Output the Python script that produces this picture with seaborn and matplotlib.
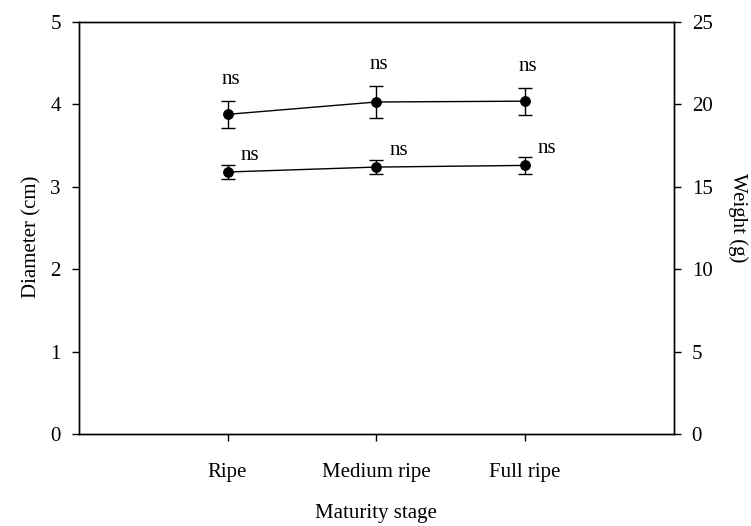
import matplotlib
matplotlib.use("Agg")
import matplotlib.pyplot as plt
import seaborn as sns
import pandas as pd

stages = ["Ripe", "Medium ripe", "Full ripe"]
diameter = [3.18, 3.24, 3.26]
diameter_err = [0.09, 0.09, 0.10]
weight = [19.4, 20.15, 20.2]
weight_err = [0.84, 0.99, 0.82]
diameter_sig = ["ns", "ns", "ns"]
weight_sig = ["ns", "ns", "ns"]

sns.set_style("ticks")
plt.rcParams["font.family"] = ["Liberation Serif", "DejaVu Serif"]
plt.rcParams["font.size"] = 15
plt.rcParams["text.color"] = "black"
plt.rcParams["axes.labelcolor"] = "black"
plt.rcParams["xtick.color"] = "black"
plt.rcParams["ytick.color"] = "black"

fig, ax = plt.subplots(figsize=(7.51, 5.26), dpi=100)
fig.subplots_adjust(left=0.105, right=0.897, top=0.958, bottom=0.175)
ax2 = ax.twinx()

df_d = pd.DataFrame({"stage": stages, "value": diameter})
df_w = pd.DataFrame({"stage": stages, "value": weight})

sns.pointplot(data=df_d, x="stage", y="value", ax=ax, errorbar=None,
              color="black", markers="o", linewidth=1, markersize=7)
ax.errorbar(range(len(stages)), diameter, yerr=diameter_err, fmt="none",
            ecolor="black", elinewidth=1, capsize=5, capthick=1)

sns.pointplot(data=df_w, x="stage", y="value", ax=ax2, errorbar=None,
              color="black", markers="o", linewidth=1, markersize=7)
ax2.errorbar(range(len(stages)), weight, yerr=weight_err, fmt="none",
             ecolor="black", elinewidth=1, capsize=5, capthick=1)

# significance annotations
for i, (v, e, s) in enumerate(zip(diameter, diameter_err, diameter_sig)):
    ax.text(i + 0.15, v + e + 0.11, s, ha="center", va="center", fontsize=15,
            color="black")
for i, (v, e, s) in enumerate(zip(weight, weight_err, weight_sig)):
    ax2.text(i + 0.02, v + e + 1.3, s, ha="center", va="center", fontsize=15,
             color="black")

ax.set_xlim(-1, 3)
ax.set_ylim(0, 5)
ax.set_yticks([0, 1, 2, 3, 4, 5])
ax2.set_ylim(0, 25)
ax2.set_yticks([0, 5, 10, 15, 20, 25])
ax.set_xticks(range(len(stages)))
ax.set_xticklabels(stages)

ax.set_xlabel("Maturity stage", labelpad=16)
ax.set_ylabel("Diameter (cm)", labelpad=6)
ax2.set_ylabel("Weight (g)", rotation=270, labelpad=25)
ax2.set_xlabel("")
ax.yaxis.label.set_y(0.478)
ax2.yaxis.label.set_y(0.524)

for a in (ax, ax2):
    for sp in a.spines.values():
        sp.set_visible(True)
        sp.set_linewidth(1)
        sp.set_color("black")
    a.tick_params(direction="out", length=5, width=1, colors="black",
                  labelsize=15, pad=8)
ax.tick_params(axis="x", pad=16)

fig.savefig("out.png", dpi=100)
